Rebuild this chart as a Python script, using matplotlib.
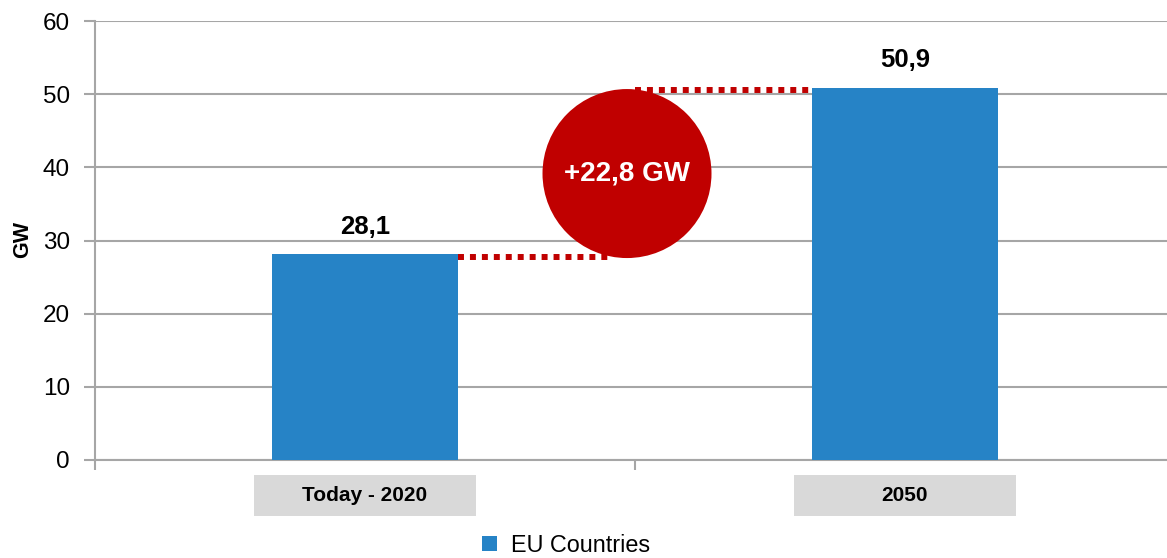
import matplotlib
matplotlib.use('Agg')
import matplotlib.pyplot as plt
from matplotlib.patches import Ellipse, Rectangle, Patch
import matplotlib.transforms as mtransforms

plt.rcParams['font.family'] = ['Liberation Sans', 'DejaVu Sans']

# data
categories = ['Today - 2020', '2050']
values = [28.1, 50.9]
series_name = 'EU Countries'
y_ticks = [0, 10, 20, 30, 40, 50, 60]

blue = '#2683C6'
red = '#C00000'
grey = '#A6A6A6'


def fmt(v):
    # decimal comma
    return ('%.1f' % v).replace('.', ',')


fig = plt.figure(figsize=(11.67, 5.58), dpi=100)
ax = fig.add_axes([95 / 1167, 1 - 460 / 558, 1 - 95 / 1167, 439 / 558])

x = list(range(len(categories)))
bar_w = 186 / 540
ax.bar(x, values, width=bar_w, color=blue, zorder=3)

ax.set_xlim(-0.5, 1 + (1167 - 905) / 540)
ax.set_ylim(0, 60)
ax.set_yticks(y_ticks)
ax.tick_params(axis='y', labelsize=17.5, length=8, width=1.5, color=grey, pad=10)
ax.grid(axis='y', color=grey, linewidth=1.5, zorder=0)

# category separator ticks, no labels
ax.set_xticks([-0.5, 0.5])
ax.set_xticklabels([])
ax.tick_params(axis='x', length=7, width=1.5, color=grey)

for s in ['top', 'right']:
    ax.spines[s].set_visible(False)
ax.spines['left'].set_color(grey)
ax.spines['left'].set_linewidth(1.5)
ax.spines['bottom'].set_color(grey)
ax.spines['bottom'].set_linewidth(1.5)

ax.set_ylabel('GW', fontsize=15.5, fontweight='bold')
ax.yaxis.set_label_coords(-0.058, 0.503)

# value labels above bars
for xi, v in zip(x, values):
    ax.annotate(fmt(v), (xi, v), xytext=(0, 15), textcoords='offset points',
                ha='center', va='baseline', fontsize=18.5, fontweight='bold')

# category labels in grey boxes
trans = mtransforms.blended_transform_factory(ax.transData, ax.transAxes)
box_w = 222 / 540
for xi, lab in zip(x, categories):
    ax.add_patch(Rectangle((xi - box_w / 2, -0.1276), box_w, 0.0934,
                           transform=trans, facecolor='#D9D9D9',
                           edgecolor='none', clip_on=False))
    ax.text(xi, -0.081, lab, transform=trans, ha='center', va='center',
            fontsize=15, fontweight='bold')

# dotted connector lines
off = 0.35
ax.plot([x[0] + bar_w / 2, (610 - 365) / 540], [values[0] - off] * 2,
        color=red, linewidth=4.3, linestyle=(0, (1, 1)), zorder=4,
        solid_capstyle='butt', dash_capstyle='butt')
ax.plot([0.5, x[1] - bar_w / 2], [values[1] - off] * 2,
        color=red, linewidth=4.3, linestyle=(0, (1, 1)), zorder=4,
        solid_capstyle='butt', dash_capstyle='butt')

# difference bubble
cx = (627 - 365) / 540
cy = (values[0] + values[1]) / 2 - off
circ = Ellipse((cx, cy), 169 / 540, 169 / (439 / 60), facecolor=red,
               edgecolor='none', zorder=5)
ax.add_patch(circ)
ax.text(cx, cy, '+%s GW' % fmt(values[1] - values[0]), ha='center', va='center',
        color='white', fontsize=20, fontweight='bold', zorder=6)

# legend (sits at the very bottom edge, as in the original)
fig.legend(handles=[Patch(facecolor=blue, label=series_name)], loc='center',
           bbox_to_anchor=(566 / 1167, 1 - 545 / 558), frameon=False,
           fontsize=16.8, handlelength=0.65, handleheight=0.65, handletextpad=0.6,
           borderpad=0.1)

fig.savefig('out.png', dpi=100)
